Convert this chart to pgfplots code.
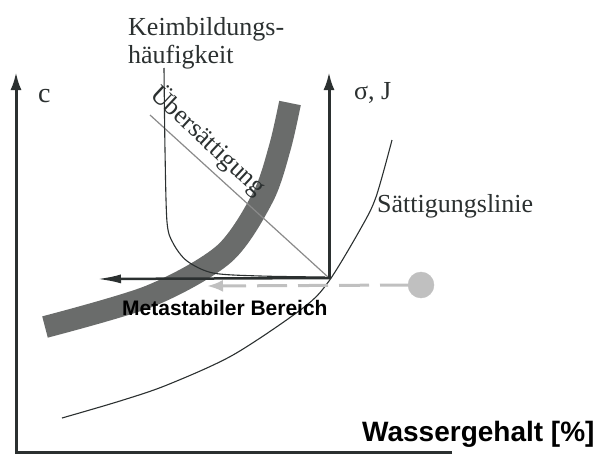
\documentclass[border=0pt]{standalone}
\usepackage{fontspec}
\setmainfont{Liberation Serif}
\newfontfamily\arial{Liberation Sans}
\usepackage{pgfplots}
\pgfplotsset{compat=1.18}
\usetikzlibrary{arrows.meta}
\definecolor{axdark}{HTML}{2B3030}
\definecolor{band}{HTML}{6A6C6B}
\definecolor{lgray}{HTML}{C0C0C0}
\definecolor{mgray}{HTML}{8A8A8A}
\begin{document}
\begin{tikzpicture}
\begin{axis}[x=1pt, y=1pt, xmin=0, xmax=608, ymin=0, ymax=455, y dir=reverse,
  axis lines=none, clip=false, scale only axis]
\addplot[draw=none] coordinates {(0,0) (608,455)};
% band
\addplot[band, line width=22pt, smooth, line cap=butt] coordinates {
 (45,327) (150,296) (224,254) (263,197) (280,147) (290,103)};
% supersaturation line
\addplot[mgray, line width=1.2pt] coordinates {(150,115) (328,277)};
% saturation line
\addplot[axdark, line width=1.1pt, smooth] coordinates {
 (62,418) (120,401) (167,385) (233,355) (303,308) (329,281) (361,228) (376,197) (392,140)};
% nucleation curve
\addplot[axdark, line width=1.1pt, smooth] coordinates {
 (164,68) (165,150) (167,222) (173,243) (187,261) (213,273) (260,276) (325,277)};
% gray dashed arrow
\addplot[lgray, line width=3pt, dash pattern=on 30pt off 11pt,
  -{Latex[length=16pt,width=12pt]}] coordinates {(410,285) (207,286)};
\addplot[only marks, mark=*, mark size=13pt, color=lgray] coordinates {(421,285)};
% axes
\addplot[axdark, line width=3pt, line join=miter, -{Latex[length=18pt,width=11pt]}]
  coordinates {(452,452) (16,452) (16,72)};
\addplot[axdark, line width=3pt, -{Latex[length=18pt,width=11pt]}]
  coordinates {(329,279) (329,72)};
\addplot[axdark, line width=2.5pt, -{Latex[length=24pt,width=9pt]}]
  coordinates {(330,278) (97,279)};
% texts
\node[anchor=base west, inner sep=0pt, text=axdark] at (axis cs:128,35) {\fontsize{26}{30}\selectfont Keimbildungs-};
\node[anchor=base west, inner sep=0pt, text=axdark] at (axis cs:128,63) {\fontsize{26}{30}\selectfont häufigkeit};
\node[anchor=base west, inner sep=0pt, text=axdark] at (axis cs:38,102) {\fontsize{28}{30}\selectfont c};
\node[anchor=base west, inner sep=0pt, text=axdark] at (axis cs:354,99) {\fontsize{26}{30}\selectfont σ, J};
\node[anchor=base west, inner sep=0pt, text=axdark] at (axis cs:377,212) {\fontsize{26}{30}\selectfont Sättigungslinie};
\node[anchor=base west, inner sep=0pt, text=axdark, rotate=-43] at (axis cs:149,96) {\fontsize{26}{30}\selectfont Übersättigung};
\node[anchor=base west, inner sep=0pt] at (axis cs:122,315) {\arial\bfseries\fontsize{21}{24}\selectfont Metastabiler Bereich};
\node[anchor=base west, inner sep=0pt] at (axis cs:362,441) {\arial\bfseries\fontsize{28}{30}\selectfont Wassergehalt [\%]};
\end{axis}
\end{tikzpicture}
\end{document}
